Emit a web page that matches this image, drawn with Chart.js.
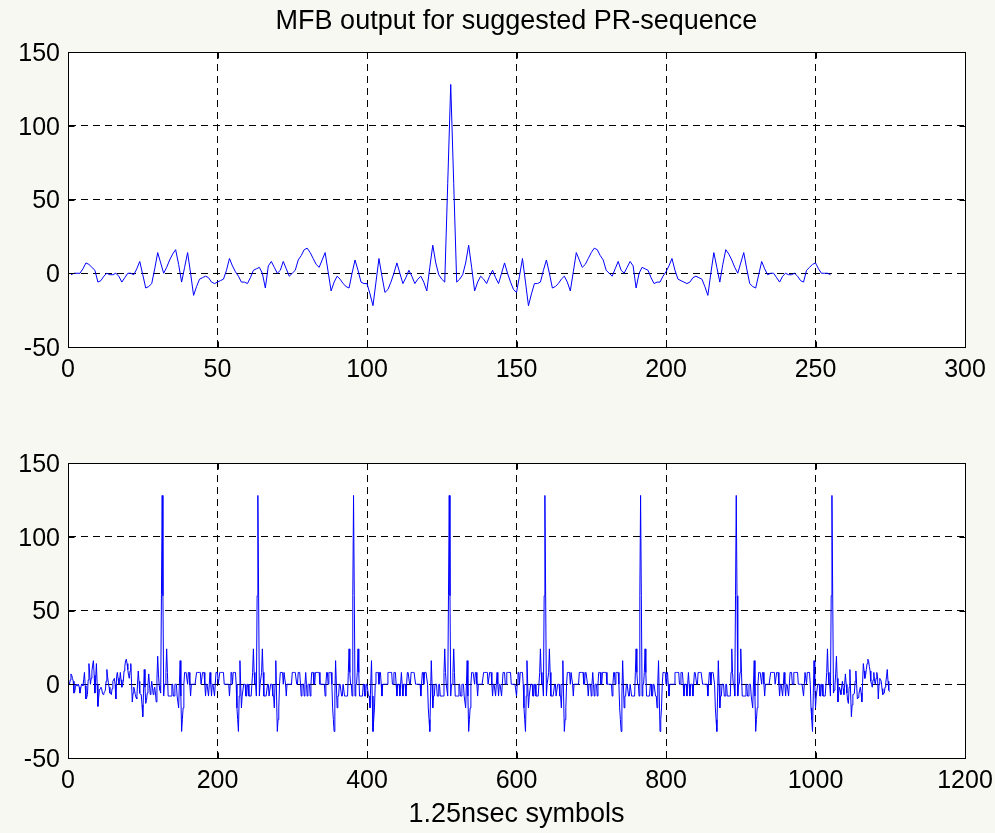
<!DOCTYPE html>
<html>
<head>
<meta charset="utf-8">
<script src="https://cdn.jsdelivr.net/npm/chart.js@4/dist/chart.umd.min.js"></script>
<style>
  html, body { margin: 0; padding: 0; background: #f8f8f3; }
  #wrap { position: relative; width: 995px; height: 833px; overflow: hidden; background: #f8f8f3; }
  .box { position: absolute; left: 0; width: 995px; }
</style>
</head>
<body>
<div id="wrap">
  <div class="box" style="top:0;height:410px"><canvas id="topChart" width="995" height="410"></canvas></div>
  <div class="box" style="top:410px;height:423px"><canvas id="bottomChart" width="995" height="423"></canvas></div>
</div>
<script>
// ---------------- DATA ----------------
const chartTitle = 'MFB output for suggested PR-sequence';
const bottomXLabel = '1.25nsec symbols';

const topXTicks = [0, 50, 100, 150, 200, 250, 300];
const bottomXTicks = [0, 200, 400, 600, 800, 1000, 1200];
const yTicks = [-50, 0, 50, 100, 150];

const topStartX = 1;     // first sample index of the upper trace
const bottomStartX = 0;  // first sample index of the lower trace

// upper trace: one MFB output (255 samples)
const topValues = [
  -1,0,0,0,3,7,6,
  4,2,-6,-5,-2,0,-1,-1,0,-2,
  -6,-3,0,0,-1,3,8,-1,-10,-9,
  -7,3,14,7,0,4,9,13,16,6,
  -6,4,14,0,-15,-9,-4,-3,-2,-3,
  -6,-7,-6,-5,-4,2,10,5,1,-2,
  -6,-6,-7,-3,2,3,4,0,-10,5,
  8,4,0,2,8,3,-2,0,2,9,
  12,16,17,14,10,6,4,9,14,1,
  -12,-6,-2,-4,-7,-9,-10,0,9,2,
  -6,-7,-7,-14,-22,-6,10,-2,-13,-11,
  -6,0,7,0,-7,-3,2,-2,-7,-4,
  -2,-6,-12,4,19,7,-1,-4,-6,61,
  128,
  61,-6,-4,-1,7,19,4,-12,-6,-2,
  -4,-7,-2,2,-3,-7,0,7,0,-6,
  -11,-13,-2,10,-6,-22,-14,-7,-7,-6,
  2,9,0,-10,-9,-7,-4,-2,-6,-12,
  1,14,9,4,6,10,14,17,16,12,
  9,2,0,-2,3,8,2,0,4,8,
  5,-10,0,4,3,2,-3,-7,-6,-6,
  -2,1,5,10,2,-4,-5,-6,-7,-6,
  -3,-2,-3,-4,-9,-15,0,14,4,-6,
  6,16,13,9,4,0,7,14,3,-7,
  -9,-10,-1,8,3,-1,0,0,-3,-6,
  -2,0,-1,-1,0,-2,-5,-6,2,4,
  6,7,3,0,0,0,-1
];

// lower trace: MFB output over the repeated sequence (1100 samples)
const bottomValues = [
  0,0,0,3,7,6,4,2,-6,-5,-2,0,-1,-1,0,-2,-6,-3,0,0,-1,3,8,-1,-10,-9,-7,3,14,7,0,4,9,13,16,6,-6,4,14,0,-15,-9,-4,-3,-2,-3,-6,-7,-6,-5,-4,2,10,5,1,-2,-6,-6,-7,-3,2,3,4,0,-10,5,8,4,0,2,8,3,-2,0,2,9,12,16,17,14,10,6,4,9,14,1,-12,-6,-2,-4,-7,-9,-10,0,9,2,-6,-7,-7,-14,-22,-6,10,-2,-13,-11,-6,0,7,0,-7,-3,2,-2,-7,-4,-2,-6,-12,4,19,7,-1,-4,-6,61,
  128,60,-8,0,0,8,24,8,-8,-8,-8,-8,-8,0,0,-8,-8,0,0,0,-8,-8,-16,0,16,-8,-32,-24,-16,0,8,8,8,8,0,8,8,0,-8,0,0,0,0,0,0,0,8,8,8,8,8,8,0,0,8,8,8,0,-8,0,0,0,-8,0,8,0,-8,0,0,0,-8,0,8,8,8,0,0,8,8,8,8,8,8,0,0,0,0,0,0,0,-8,0,8,8,0,8,8,8,8,0,-16,-24,-32,-8,16,0,-16,-8,-8,0,0,0,-8,-8,0,0,-8,-8,-8,-8,-8,8,24,8,0,0,-8,60,
  128,60,-8,0,0,8,24,8,-8,-8,-8,-8,-8,0,0,-8,-8,0,0,0,-8,-8,-16,0,16,-8,-32,-24,-16,0,8,8,8,8,0,8,8,0,-8,0,0,0,0,0,0,0,8,8,8,8,8,8,0,0,8,8,8,0,-8,0,0,0,-8,0,8,0,-8,0,0,0,-8,0,8,8,8,0,0,8,8,8,8,8,8,0,0,0,0,0,0,0,-8,0,8,8,0,8,8,8,8,0,-16,-24,-32,-8,16,0,-16,-8,-8,0,0,0,-8,-8,0,0,-8,-8,-8,-8,-8,8,24,8,0,0,-8,60,
  128,60,-8,0,0,8,24,8,-8,-8,-8,-8,-8,0,0,-8,-8,0,0,0,-8,-8,-16,0,16,-8,-32,-24,-16,0,8,8,8,8,0,8,8,0,-8,0,0,0,0,0,0,0,8,8,8,8,8,8,0,0,8,8,8,0,-8,0,0,0,-8,0,8,0,-8,0,0,0,-8,0,8,8,8,0,0,8,8,8,8,8,8,0,0,0,0,0,0,0,-8,0,8,8,0,8,8,8,8,0,-16,-24,-32,-8,16,0,-16,-8,-8,0,0,0,-8,-8,0,0,-8,-8,-8,-8,-8,8,24,8,0,0,-8,60,
  128,60,-8,0,0,8,24,8,-8,-8,-8,-8,-8,0,0,-8,-8,0,0,0,-8,-8,-16,0,16,-8,-32,-24,-16,0,8,8,8,8,0,8,8,0,-8,0,0,0,0,0,0,0,8,8,8,8,8,8,0,0,8,8,8,0,-8,0,0,0,-8,0,8,0,-8,0,0,0,-8,0,8,8,8,0,0,8,8,8,8,8,8,0,0,0,0,0,0,0,-8,0,8,8,0,8,8,8,8,0,-16,-24,-32,-8,16,0,-16,-8,-8,0,0,0,-8,-8,0,0,-8,-8,-8,-8,-8,8,24,8,0,0,-8,60,
  128,60,-8,0,0,8,24,8,-8,-8,-8,-8,-8,0,0,-8,-8,0,0,0,-8,-8,-16,0,16,-8,-32,-24,-16,0,8,8,8,8,0,8,8,0,-8,0,0,0,0,0,0,0,8,8,8,8,8,8,0,0,8,8,8,0,-8,0,0,0,-8,0,8,0,-8,0,0,0,-8,0,8,8,8,0,0,8,8,8,8,8,8,0,0,0,0,0,0,0,-8,0,8,8,0,8,8,8,8,0,-16,-24,-32,-8,16,0,-16,-8,-8,0,0,0,-8,-8,0,0,-8,-8,-8,-8,-8,8,24,8,0,0,-8,60,
  128,60,-8,0,0,8,24,8,-8,-8,-8,-8,-8,0,0,-8,-8,0,0,0,-8,-8,-16,0,16,-8,-32,-24,-16,0,8,8,8,8,0,8,8,0,-8,0,0,0,0,0,0,0,8,8,8,8,8,8,0,0,8,8,8,0,-8,0,0,0,-8,0,8,0,-8,0,0,0,-8,0,8,8,8,0,0,8,8,8,8,8,8,0,0,0,0,0,0,0,-8,0,8,8,0,8,8,8,8,0,-16,-24,-32,-8,16,0,-16,-8,-8,0,0,0,-8,-8,0,0,-8,-8,-8,-8,-8,8,24,8,0,0,-8,60,
  128,60,-8,0,0,8,24,8,-8,-8,-8,-8,-8,0,0,-8,-8,0,0,0,-8,-8,-16,0,16,-8,-32,-24,-16,0,8,8,8,8,0,8,8,0,-8,0,0,0,0,0,0,0,8,8,8,8,8,8,0,0,8,8,8,0,-8,0,0,0,-8,0,8,0,-8,0,0,0,-8,0,8,8,8,0,0,8,8,8,8,8,8,0,0,0,0,0,0,0,-8,0,8,8,0,8,8,8,8,0,-16,-24,-32,-8,16,0,-16,-8,-8,0,0,0,-8,-8,0,0,-8,-8,-8,-8,-8,8,24,8,0,0,-8,60,
  128,61,-6,-4,-1,7,19,4,-12,-6,-2,-4,-7,-2,2,-3,-7,0,7,0,-6,-11,-13,-2,10,-6,-22,-14,-7,-7,-6,2,9,0,-10,-9,-7,-4,-2,-6,-12,1,14,9,4,6,10,14,17,16,12,9,2,0,-2,3,8,2,0,4,8,5,-10,0,4,3,2,-3,-7,-6,-6,-2,1,5,10,2,-4,-5
];

// ---------------- STYLE / CHARTS ----------------
const FONT = "'Liberation Sans', Arial, Helvetica, sans-serif";
const LINE_BLUE = '#0000ff';

const framePlugin = {
  id: 'matlabFrame',
  beforeDraw(chart) {
    const { ctx, chartArea: a } = chart;
    ctx.save();
    ctx.fillStyle = '#ffffff';
    ctx.fillRect(a.left, a.top, a.right - a.left, a.bottom - a.top);
    ctx.restore();
  },
  afterDraw(chart) {
    const { ctx, chartArea: a, scales } = chart;
    const L = Math.round(a.left) + 0.5, R = Math.round(a.right) + 0.5;
    const T = Math.round(a.top) + 0.5, B = Math.round(a.bottom) + 0.5;
    ctx.save();
    ctx.strokeStyle = '#000';
    ctx.lineWidth = 1;
    ctx.setLineDash([]);
    ctx.beginPath();
    ctx.rect(L, T, R - L, B - T);
    scales.x.ticks.forEach(t => {
      const px = Math.round(scales.x.getPixelForValue(t.value)) + 0.5;
      ctx.moveTo(px, B); ctx.lineTo(px, B - 6);
      ctx.moveTo(px, T); ctx.lineTo(px, T + 6);
    });
    scales.y.ticks.forEach(t => {
      const py = Math.round(scales.y.getPixelForValue(t.value)) + 0.5;
      ctx.moveTo(L, py); ctx.lineTo(L + 6, py);
      ctx.moveTo(R, py); ctx.lineTo(R - 6, py);
    });
    ctx.stroke();
    ctx.restore();
  }
};

function axisOpts(min, max, tickList, isY, extra) {
  return Object.assign({
    type: 'linear',
    min, max,
    afterBuildTicks: s => { s.ticks = tickList.map(v => ({ value: v })); },
    ticks: {
      color: '#000',
      font: { family: FONT, size: 25 },
      padding: 8,
      maxRotation: 0,
      autoSkip: false,
      labelOffset: isY ? 2 : 0,
      callback: v => String(v)
    },
    grid: { color: '#000', lineWidth: 1, drawTicks: false },
    border: { display: true, color: '#000', width: 1, dash: [7, 5] }
  }, extra || {});
}

function makeChart(id, values, startX, xMin, xMax, xTickList, opts) {
  const pts = values.map((v, i) => ({ x: startX + i, y: v }));
  return new Chart(document.getElementById(id), {
    type: 'line',
    data: {
      datasets: [{
        data: pts,
        borderColor: LINE_BLUE,
        borderWidth: 1,
        pointRadius: 0,
        tension: 0,
        fill: false
      }]
    },
    options: {
      responsive: false,
      animation: false,
      devicePixelRatio: 1,
      layout: { padding: opts.padding },
      plugins: {
        legend: { display: false },
        tooltip: { enabled: false },
        title: opts.title
      },
      scales: {
        x: axisOpts(xMin, xMax, xTickList, false, {
          afterFit: s => { s.height = opts.xHeight; s.paddingLeft = 0; s.paddingRight = 0; },
          title: opts.xTitle
        }),
        y: axisOpts(-50, 150, yTicks, true, {
          afterFit: s => { s.width = 68; s.paddingTop = 0; s.paddingBottom = 0; }
        })
      }
    },
    plugins: [framePlugin]
  });
}

makeChart('topChart', topValues, topStartX, 0, 300, topXTicks, {
  padding: { top: 0, left: 0, right: 30, bottom: 0 },
  xHeight: 63,
  title: {
    display: true,
    text: chartTitle,
    fullSize: false,
    color: '#000',
    font: { family: FONT, size: 27, weight: 'normal', lineHeight: 1.2 },
    padding: { top: 5, bottom: 14.6 }
  },
  xTitle: { display: false }
});

makeChart('bottomChart', bottomValues, bottomStartX, 0, 1200, bottomXTicks, {
  padding: { top: 53, left: 0, right: 30, bottom: 0 },
  xHeight: 75,
  title: { display: false },
  xTitle: {
    display: true,
    text: bottomXLabel,
    color: '#000',
    font: { family: FONT, size: 27, weight: 'normal', lineHeight: 1.2 },
    padding: { top: 0, bottom: 2 }
  }
});
</script>
</body>
</html>
